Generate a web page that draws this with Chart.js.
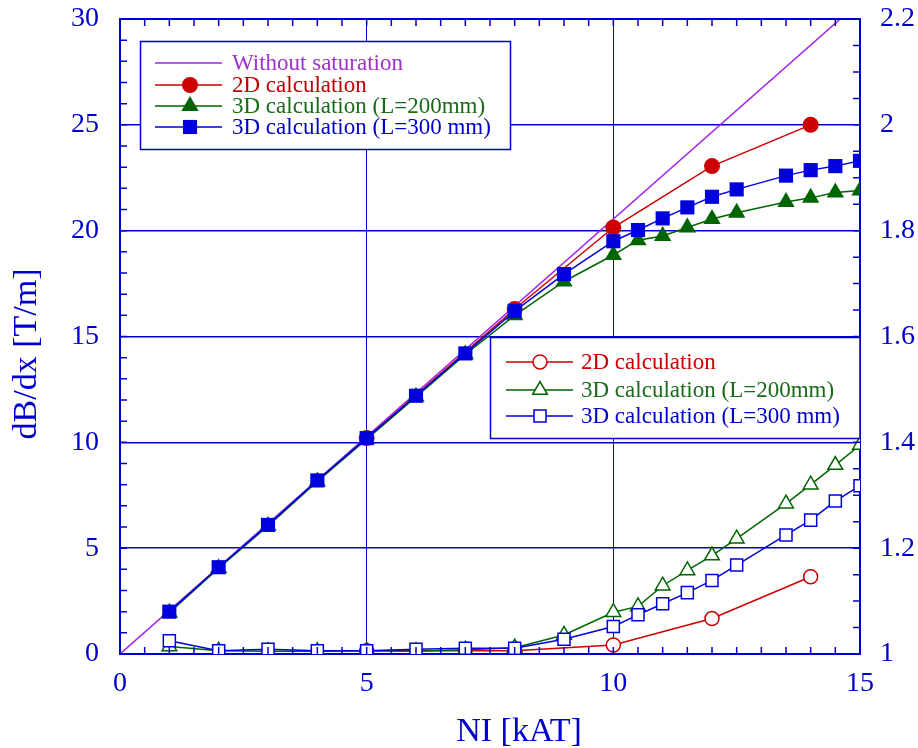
<!DOCTYPE html>
<html>
<head>
<meta charset="utf-8">
<script src="https://cdn.jsdelivr.net/npm/chart.js@4.4.1/dist/chart.umd.min.js"></script>
<style>
  html, body { margin: 0; padding: 0; background: #fff; }
  #wrap { width: 918px; height: 748px; }
</style>
</head>
<body>
<div id="wrap"><canvas id="chart" width="918" height="748"></canvas></div>
<script>
// valores
const niFull = [1, 2, 3, 4, 5, 6, 7, 8, 9, 10, 10.5, 11, 11.5, 12, 12.5, 13.5, 14, 14.5, 15];
const ni2D = [5, 8, 10, 12, 14];
const niLinear = [0, 14.6];

// gradiente dB/dx [T/m] (eixo esquerdo)
const gradLinear = [0, 30];
const grad2D = [10.2, 16.3, 20.15, 23.05, 25.0];
const grad3D200 = [1.95, 4.05, 6.05, 8.15, 10.15, 12.15, 14.15, 16.0, 17.6, 18.85, 19.55, 19.75, 20.15, 20.55, 20.85, 21.35, 21.55, 21.8, 21.9];
const grad3D300 = [2.0, 4.1, 6.1, 8.2, 10.2, 12.2, 14.2, 16.2, 17.95, 19.5, 20.03, 20.58, 21.1, 21.6, 21.95, 22.6, 22.86, 23.05, 23.3];

// razão (eixo direito)
const ratio2D = [1.006, 1.006, 1.017, 1.067, 1.146];
const ratio3D200 = [1.014, 1.006, 1.005, 1.005, 1.006, 1.005, 1.008, 1.012, 1.036, 1.079, 1.09, 1.129, 1.158, 1.186, 1.218, 1.284, 1.32, 1.357, 1.395];
const ratio3D300 = [1.025, 1.006, 1.009, 1.006, 1.006, 1.009, 1.011, 1.011, 1.028, 1.052, 1.074, 1.095, 1.116, 1.139, 1.168, 1.225, 1.253, 1.289, 1.318];

const xTicks = [0, 5, 10, 15];
const yTicks = [0, 5, 10, 15, 20, 25, 30];
const y2Ticks = [1, 1.2, 1.4, 1.6, 1.8, 2, 2.2];

const AXIS = '#0000cc';
const PURPLE = '#a020f0';
const RED = '#cc0000';
const GREEN = '#006400';
const BLUE = '#0000dd';
const FONT = '"Liberation Serif", "Times New Roman", serif';

function pts(xs, ys) {
  return xs.map((x, i) => ({ x: x, y: ys[i] }));
}

const datasets = [
  { label: '3D calculation (L=300 mm)', data: pts(niFull, grad3D300), yAxisID: 'y', order: 1,
    borderColor: BLUE, backgroundColor: BLUE, pointBackgroundColor: BLUE, borderWidth: 1.5,
    pointStyle: 'rect', pointRadius: 10, pointBorderWidth: 0, legendGroup: 1 },
  { label: '3D calculation (L=200mm)', data: pts(niFull, grad3D200), yAxisID: 'y', order: 2,
    borderColor: GREEN, backgroundColor: GREEN, pointBackgroundColor: GREEN, borderWidth: 1.5,
    pointStyle: 'triangle', pointRadius: 10, pointBorderWidth: 0, legendGroup: 1 },
  { label: '2D calculation', data: pts(ni2D, grad2D), yAxisID: 'y', order: 3,
    borderColor: RED, backgroundColor: RED, pointBackgroundColor: RED, borderWidth: 1.5,
    pointStyle: 'circle', pointRadius: 8, pointBorderWidth: 0, legendGroup: 1 },
  { label: 'Without saturation', data: pts(niLinear, gradLinear), yAxisID: 'y', order: 4,
    borderColor: PURPLE, backgroundColor: PURPLE, borderWidth: 1.5, pointRadius: 0, legendGroup: 1 },

  { label: '3D calculation (L=300 mm)', data: pts(niFull, ratio3D300), yAxisID: 'y2', order: 5,
    borderColor: BLUE, backgroundColor: '#fff', pointBackgroundColor: '#fff', pointBorderColor: BLUE,
    borderWidth: 1.5, pointStyle: 'rect', pointRadius: 8.5, pointBorderWidth: 1.5, legendGroup: 2 },
  { label: '3D calculation (L=200mm)', data: pts(niFull, ratio3D200), yAxisID: 'y2', order: 6,
    borderColor: GREEN, backgroundColor: '#fff', pointBackgroundColor: '#fff', pointBorderColor: GREEN,
    borderWidth: 1.5, pointStyle: 'triangle', pointRadius: 8.5, pointBorderWidth: 1.5, legendGroup: 2 },
  { label: '2D calculation', data: pts(ni2D, ratio2D), yAxisID: 'y2', order: 7,
    borderColor: RED, backgroundColor: '#fff', pointBackgroundColor: '#fff', pointBorderColor: RED,
    borderWidth: 1.5, pointStyle: 'circle', pointRadius: 7, pointBorderWidth: 1.5, legendGroup: 2 }
];

// ticks internos (menores) nos quatro lados
const innerTicks = {
  id: 'innerTicks',
  afterDatasetsDraw(chart) {
    const { ctx, chartArea: a, scales } = chart;
    const len = 7;
    ctx.save();
    ctx.strokeStyle = AXIS;
    ctx.lineWidth = 1.5;
    ctx.beginPath();
    for (let v = 0; v <= 15.0001; v += 0.5) {
      const px = scales.x.getPixelForValue(v);
      ctx.moveTo(px, a.bottom); ctx.lineTo(px, a.bottom - len);
      ctx.moveTo(px, a.top); ctx.lineTo(px, a.top + len);
    }
    for (let v = 0; v <= 30.0001; v += 1) {
      const py = scales.y.getPixelForValue(v);
      ctx.moveTo(a.left, py); ctx.lineTo(a.left + len, py);
    }
    for (let v = 1; v <= 2.2001; v += 0.05) {
      const py = scales.y2.getPixelForValue(v);
      ctx.moveTo(a.right, py); ctx.lineTo(a.right - len, py);
    }
    ctx.stroke();
    // moldura superior
    ctx.lineWidth = 2;
    ctx.beginPath();
    ctx.moveTo(a.left, a.top); ctx.lineTo(a.right, a.top);
    ctx.stroke();
    ctx.restore();
  }
};

// duas caixas de legenda desenhadas a mão
const boxLegends = {
  id: 'boxLegends',
  afterDraw(chart) {
    const { ctx } = chart;
    const ds = chart.data.datasets;
    const boxes = [
      { group: 1, x: 140.5, y: 41.5, w: 370, h: 108, rows: [63, 85, 106, 127],
        lineX: [155, 222], markX: 190, textX: 232,
        order: ['Without saturation', '2D calculation', '3D calculation (L=200mm)', '3D calculation (L=300 mm)'],
        textColors: ['#a030d0', '#c00000', '#1a6b1a', '#0000cc'] },
      { group: 2, x: 490.5, y: 337.5, w: 369.5, h: 101, rows: [362, 390, 416],
        lineX: [506, 573], markX: 540, textX: 581,
        order: ['2D calculation', '3D calculation (L=200mm)', '3D calculation (L=300 mm)'],
        textColors: ['#cc0000', '#1a6b1a', '#0000cc'] }
    ];
    ctx.save();
    boxes.forEach(b => {
      ctx.fillStyle = '#fff';
      ctx.fillRect(b.x, b.y, b.w, b.h);
      ctx.strokeStyle = AXIS;
      ctx.lineWidth = 1.5;
      ctx.strokeRect(b.x, b.y, b.w, b.h);
      b.order.forEach((label, i) => {
        const d = ds.find(s => s.legendGroup === b.group && s.label === label);
        const y = b.rows[i];
        ctx.strokeStyle = d.borderColor;
        ctx.lineWidth = 1.5;
        ctx.beginPath();
        ctx.moveTo(b.lineX[0], y);
        ctx.lineTo(b.lineX[1], y);
        ctx.stroke();
        if (d.pointRadius > 0) {
          ctx.fillStyle = d.pointBackgroundColor;
          ctx.strokeStyle = d.pointBorderColor || d.borderColor;
          ctx.lineWidth = d.pointBorderWidth || 0;
          Chart.helpers.drawPoint(ctx, {
            pointStyle: d.pointStyle, radius: d.pointRadius, rotation: 0,
            borderWidth: d.pointBorderWidth || 0
          }, b.markX, y);
        }
        ctx.fillStyle = b.textColors[i];
        ctx.font = '23px ' + FONT;
        ctx.textAlign = 'left';
        ctx.textBaseline = 'middle';
        ctx.fillText(label, b.textX, y + 1);
      });
    });
    ctx.restore();
  }
};

// títulos dos eixos
const axisTitles = {
  id: 'axisTitles',
  afterDraw(chart) {
    const { ctx } = chart;
    ctx.save();
    ctx.fillStyle = AXIS;
    ctx.font = '34px ' + FONT;
    ctx.textAlign = 'center';
    ctx.textBaseline = 'alphabetic';
    ctx.fillText('NI [kAT]', 519, 741);
    ctx.translate(36, 354);
    ctx.rotate(-Math.PI / 2);
    ctx.fillText('dB/dx [T/m]', 0, 0);
    ctx.restore();
  }
};

const tickFont = { family: FONT, size: 28 };

function fitVertical(w) {
  return s => { s.width = w; s.paddingTop = 0; s.paddingBottom = 0; };
}

new Chart(document.getElementById('chart'), {
  type: 'line',
  data: { datasets: datasets },
  options: {
    responsive: false,
    animation: false,
    devicePixelRatio: 1,
    layout: { autoPadding: false, padding: { top: 19, right: 0, bottom: 0, left: 0 } },
    plugins: { legend: { display: false }, tooltip: { enabled: false } },
    elements: { line: { tension: 0 } },
    scales: {
      x: {
        type: 'linear', min: 0, max: 15,
        afterBuildTicks: s => { s.ticks = xTicks.map(v => ({ value: v })); },
        afterFit: s => { s.height = 94; s.paddingLeft = 0; s.paddingRight = 0; },
        ticks: { color: AXIS, font: tickFont, padding: 13 },
        grid: { color: AXIS, lineWidth: 1, drawTicks: false },
        border: { color: AXIS, width: 2 }
      },
      y: {
        type: 'linear', position: 'left', min: 0, max: 30,
        afterBuildTicks: s => { s.ticks = yTicks.map(v => ({ value: v })); },
        afterFit: fitVertical(120),
        ticks: { color: AXIS, font: tickFont, padding: 21 },
        grid: { color: AXIS, lineWidth: 1.5, drawTicks: false },
        border: { color: AXIS, width: 2 }
      },
      y2: {
        type: 'linear', position: 'right', min: 1, max: 2.2,
        afterBuildTicks: s => { s.ticks = y2Ticks.map(v => ({ value: v })); },
        afterFit: fitVertical(58),
        ticks: { color: AXIS, font: tickFont, padding: 20, callback: v => String(Math.round(v * 10) / 10) },
        grid: { drawOnChartArea: false, drawTicks: false },
        border: { color: AXIS, width: 2 }
      }
    }
  },
  plugins: [innerTicks, boxLegends, axisTitles]
});
</script>
</body>
</html>
